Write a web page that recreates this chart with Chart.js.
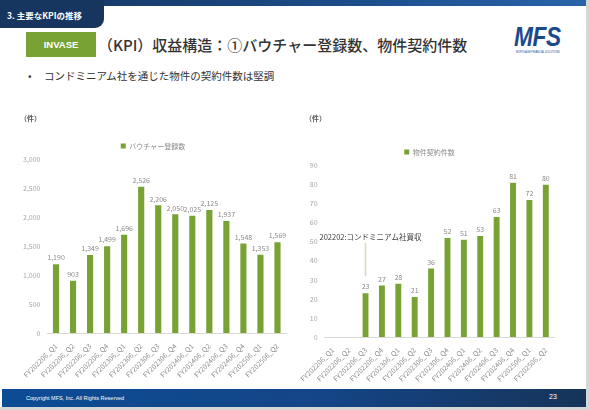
<!DOCTYPE html>
<html><head><meta charset="utf-8">
<script src="https://cdn.jsdelivr.net/npm/chart.js@4.4.0/dist/chart.umd.min.js"></script>
<style>
html,body{margin:0;padding:0;background:#fff;}
body{width:589px;height:410px;position:relative;overflow:hidden;font-family:"Noto Sans CJK JP","Noto Sans",sans-serif;}
.abs{position:absolute;}
#topbar{left:0;top:0;width:589px;height:6px;background:linear-gradient(90deg,#16355d 0%,#1c4d8a 60%,#2a64aa 100%);}
#tab{left:0;top:0;width:104px;height:28px;background:#17365f;border-bottom-right-radius:9px;color:#fff;font-weight:700;font-size:8.5px;line-height:30px;padding-left:7px;box-sizing:border-box;white-space:nowrap;}
#badge{left:26px;top:32px;width:70px;height:25px;background:#78a234;color:#fff;font-weight:700;font-size:9.5px;line-height:25px;text-align:center;font-family:"Liberation Sans",Arial,sans-serif;}
#title{left:98px;top:33px;font-size:15px;line-height:24px;font-weight:500;color:#333;white-space:nowrap;}
#logo{left:514px;top:22px;font-family:"Liberation Sans",Arial,sans-serif;font-style:italic;font-weight:700;font-size:27px;line-height:30px;color:#1a4a8e;transform:scaleX(0.84);transform-origin:left top;letter-spacing:-0.5px;}
#logosub{left:516px;top:50px;font-size:3.5px;line-height:4px;color:#1a4a8e;letter-spacing:0;font-family:"Liberation Sans",Arial,sans-serif;white-space:nowrap;transform:scaleX(0.72);transform-origin:left top;}
#bullet{left:28px;top:67px;font-size:10.5px;line-height:18px;color:#333;}
#sub{left:44px;top:67px;font-size:10.5px;line-height:18px;color:#333;white-space:nowrap;}
#footer{left:2px;top:389px;width:584px;height:18px;background:linear-gradient(90deg,#0c4c94 0%,#144587 55%,#163459 100%);}
#copy{left:26px;top:395px;font-size:5.5px;color:#fff;font-family:"Liberation Sans",Arial,sans-serif;white-space:nowrap;}
#page{left:549px;top:393px;font-size:7px;color:#fff;font-family:"Liberation Sans",Arial,sans-serif;}
#edgeR{left:586px;top:0;width:3px;height:410px;background:#d6d6d6;}
#edgeB{left:0;top:407px;width:589px;height:3px;background:#d6d6d6;}
</style></head><body>
<div class="abs" id="topbar"></div>
<div class="abs" id="tab">3. 主要なKPIの推移</div>
<div class="abs" id="badge">INVASE</div>
<div class="abs" id="title">（KPI）収益構造：①バウチャー登録数、物件契約件数</div>
<div class="abs" id="logo">MFS</div>
<div class="abs" id="logosub">MORTGAGE FINANCIAL SOLUTIONS</div>
<div class="abs" id="bullet">•</div>
<div class="abs" id="sub">コンドミニアム社を通じた物件の契約件数は堅調</div>
<div class="abs" style="left:20px;top:108px;width:272px;height:277px;"><canvas id="c1"></canvas></div>
<div class="abs" style="left:300px;top:108px;width:260px;height:281px;"><canvas id="c2"></canvas></div>
<div class="abs" id="footer"></div>
<div class="abs" id="copy">Copyright MFS, Inc. All Rights Reserved</div>
<div class="abs" id="page">23</div>
<div class="abs" id="edgeR"></div>
<div class="abs" id="edgeB"></div>
<script>
// ---- data ----
const categories = ['FY202206_Q1','FY202206_Q2','FY202206_Q3','FY202206_Q4',
  'FY202306_Q1','FY202306_Q2','FY202306_Q3','FY202306_Q4',
  'FY202406_Q1','FY202406_Q2','FY202406_Q3','FY202406_Q4',
  'FY202506_Q1','FY202506_Q2'];
const voucherCounts = [1190, 903, 1349, 1499, 1696, 2526, 2206, 2050, 2025, 2125, 1937, 1548, 1353, 1569];
const contractCounts = [null, null, 23, 27, 28, 21, 36, 52, 51, 53, 63, 81, 72, 80];
const voucherLabel = 'バウチャー登録数';
const contractLabel = '物件契約件数';
const unitLabel = '（件）';
const voucherAxis = [0, 3000, 500];   // min, max, step
const contractAxis = [0, 90, 10];
const noteText = '202202:コンドミニアム社買収';
const noteCategory = 2;
const noteValues = [52.5, 49.5, 32]; // text centre, line top, line bottom (data units)

const GREEN = '#78a234';
const FONT = '"Noto Sans CJK JP", sans-serif';

const valueLabels = {
  id: 'valueLabels',
  afterDatasetsDraw(chart) {
    const ctx = chart.ctx;
    const meta = chart.getDatasetMeta(0);
    const data = chart.data.datasets[0].data;
    ctx.save();
    ctx.font = '7px ' + FONT;
    ctx.fillStyle = '#8a8a8a';
    ctx.textAlign = 'center';
    ctx.textBaseline = 'bottom';
    meta.data.forEach((bar, i) => {
      const v = data[i];
      if (v == null) return;
      ctx.fillText(v.toLocaleString('en-US'), bar.x, bar.y - 3);
    });
    ctx.restore();
  }
};

const acquisitionNote = {
  id: 'acquisitionNote',
  afterDatasetsDraw(chart) {
    const ctx = chart.ctx;
    const xs = chart.scales.x, ys = chart.scales.y;
    const x = xs.getPixelForValue(noteCategory);
    ctx.save();
    ctx.strokeStyle = '#d9dcc4';
    ctx.lineWidth = 1.6;
    ctx.beginPath();
    ctx.moveTo(x, ys.getPixelForValue(noteValues[1]));
    ctx.lineTo(x, ys.getPixelForValue(noteValues[2]));
    ctx.stroke();
    ctx.font = '7.5px ' + FONT;
    ctx.fillStyle = '#404040';
    ctx.textAlign = 'center';
    ctx.textBaseline = 'middle';
    ctx.fillText(noteText, x + 5, ys.getPixelForValue(noteValues[0]));
    ctx.restore();
  }
};

function makeChart(id, label, values, axis, yWidth, padL, titleGap, legendPad) {
  return new Chart(document.getElementById(id), {
    type: 'bar',
    data: {
      labels: categories,
      datasets: [{ label: label, data: values, backgroundColor: GREEN,
        categoryPercentage: 1, barPercentage: 0.36 }]
    },
    options: {
      responsive: true, maintainAspectRatio: false, animation: false,
      layout: { padding: { left: padL, right: 6, top: 0, bottom: 0 } },
      plugins: {
        title: { display: true, text: unitLabel, align: 'start', color: '#555',
          font: { size: 7, family: FONT }, padding: { top: 6, bottom: titleGap } },
        legend: { labels: { boxWidth: 5, boxHeight: 5, color: '#8a8a8a', padding: legendPad,
          font: { size: 7, family: FONT } } },
        tooltip: { enabled: false }
      },
      scales: {
        x: {
          grid: { display: false },
          border: { color: '#d9d9d9' },
          ticks: { color: '#8c8c8c', maxRotation: 45, minRotation: 45, padding: 1,
            font: { size: 7, family: FONT } },
          afterFit: s => { s.height = 52; }
        },
        y: {
          min: axis[0], max: axis[1],
          grid: { display: false, drawTicks: false },
          border: { display: false },
          ticks: { stepSize: axis[2], color: '#a6a6a6', padding: 7,
            font: { size: 7, family: FONT } },
          afterFit: s => { s.width = yWidth; }
        }
      }
    },
    plugins: id === 'c2' ? [valueLabels, acquisitionNote] : [valueLabels]
  });
}

makeChart('c1', voucherLabel, voucherCounts, voucherAxis, 27.5, 0, 12, 8);
makeChart('c2', contractLabel, contractCounts, contractAxis, 15, 5, 16.7, 9.5);
</script>
</body></html>
